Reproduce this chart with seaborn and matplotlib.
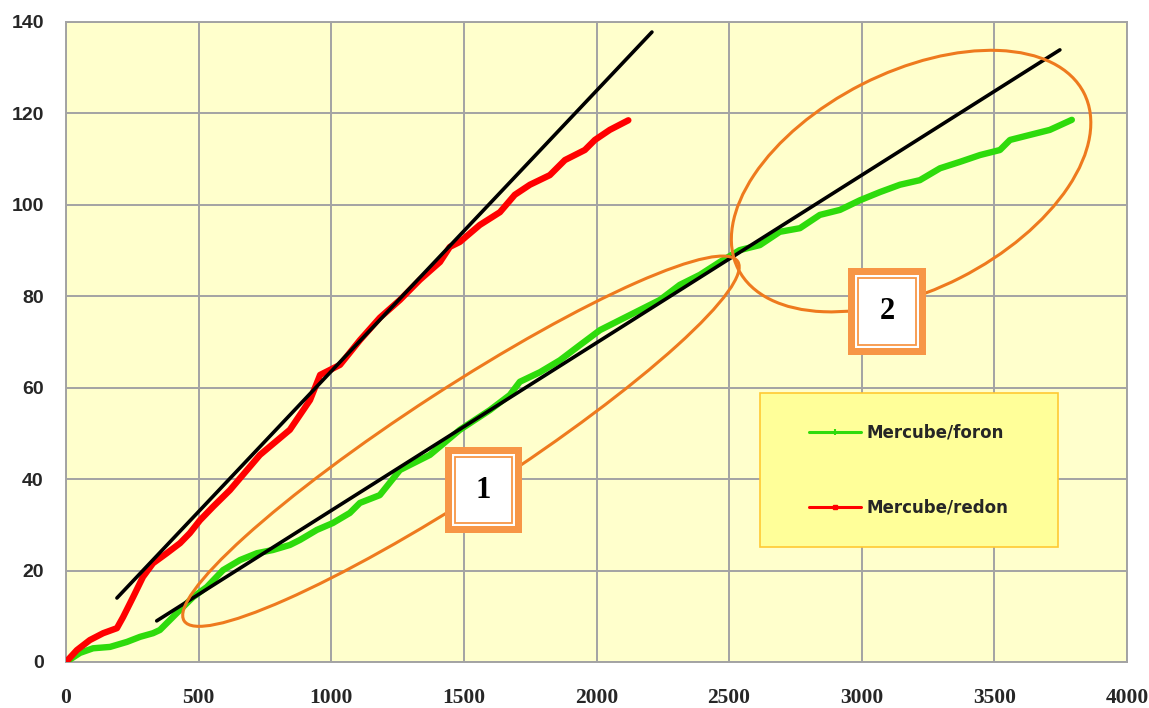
import numpy as np
import pandas as pd
import matplotlib
matplotlib.use("Agg")
import matplotlib.pyplot as plt
import seaborn as sns
from matplotlib.patches import Ellipse, Rectangle
from matplotlib.transforms import IdentityTransform
from matplotlib.lines import Line2D

# --- data -------------------------------------------------------------
foron_x = [0, 53, 102, 166, 230, 279, 328, 354, 392, 430, 479, 531, 592, 656,
           720, 780, 844, 882, 946, 1006, 1070, 1108, 1183, 1259, 1372, 1485,
           1598, 1673, 1711, 1787, 1862, 1937, 2013, 2126, 2239, 2314, 2390,
           2465, 2540, 2616, 2691, 2767, 2842, 2918, 2993, 3069, 3144, 3219,
           3295, 3370, 3446, 3521, 3559, 3634, 3709, 3792]
foron_y = [0, 2.0, 3.0, 3.3, 4.4, 5.5, 6.3, 7.0, 9.2, 11.4, 14.2, 16.4, 20.1,
           22.3, 23.8, 24.5, 25.6, 26.7, 28.9, 30.4, 32.6, 34.8, 36.5, 42.0,
           45.3, 50.8, 55.1, 58.4, 61.3, 63.4, 66.0, 69.3, 72.6, 75.9, 79.2,
           82.5, 84.7, 87.5, 90.1, 91.2, 94.1, 94.9, 97.8, 98.9, 101.0, 102.8,
           104.4, 105.4, 108.0, 109.4, 110.9, 112.0, 114.2, 115.3, 116.4, 118.6]

redon_x = [0, 41, 90, 140, 192, 215, 253, 290, 328, 380, 430, 467, 505, 555,
           618, 731, 844, 920, 958, 1033, 1108, 1183, 1259, 1334, 1410, 1447,
           1485, 1560, 1636, 1692, 1749, 1824, 1881, 1956, 1994, 2050, 2120]
redon_y = [0, 2.6, 4.8, 6.3, 7.4, 9.8, 14.2, 18.6, 21.6, 23.8, 26.0, 28.2,
           31.0, 34.0, 37.6, 45.3, 50.8, 57.3, 62.8, 65.0, 70.4, 75.3, 79.2,
           83.6, 87.5, 90.8, 91.9, 95.6, 98.4, 102.2, 104.4, 106.5, 109.8,
           112.0, 114.2, 116.4, 118.5]

trend_redon_x = [192, 2209]
trend_redon_y = [14.0, 137.8]
trend_foron_x = [342, 3747]
trend_foron_y = [9.0, 133.9]

series_labels = ["Mercube/foron", "Mercube/redon"]
zone_labels = ["1", "2"]
x_ticks = [0, 500, 1000, 1500, 2000, 2500, 3000, 3500, 4000]
y_ticks = [0, 20, 40, 60, 80, 100, 120, 140]

# --- styling ----------------------------------------------------------
GREEN = "#2EDB0C"
RED = "#FF0000"
GRID = "#A3A3A3"
PLOT_BG = "#FFFFCC"
ELLIPSE_C = "#EE7A1E"
BOX_C = "#F79646"

sns.set_style("white")
plt.rcParams["font.family"] = ["DejaVu Sans"]

DPI = 100
fig = plt.figure(figsize=(11.49, 7.08), dpi=DPI)
ax = fig.add_axes([66 / 1149, 46 / 708, 1061 / 1149, 640 / 708])
ax.set_facecolor(PLOT_BG)

df = pd.concat([
    pd.DataFrame({"x": foron_x, "y": foron_y, "series": series_labels[0]}),
    pd.DataFrame({"x": redon_x, "y": redon_y, "series": series_labels[1]}),
])
sns.lineplot(data=df, x="x", y="y", hue="series",
             palette={series_labels[0]: GREEN, series_labels[1]: RED},
             sort=False, estimator=None, linewidth=4.6, legend=False,
             solid_joinstyle="round", solid_capstyle="round", ax=ax, zorder=3)

sns.lineplot(x=trend_redon_x, y=trend_redon_y, color="black", linewidth=2.6,
             sort=False, estimator=None, ax=ax, zorder=4)
sns.lineplot(x=trend_foron_x, y=trend_foron_y, color="black", linewidth=2.6,
             sort=False, estimator=None, ax=ax, zorder=4)

ax.set_xlim(0, 4000)
ax.set_ylim(0, 140)
ax.set_xticks(x_ticks)
ax.set_yticks(y_ticks)
ax.set_xlabel("")
ax.set_ylabel("")
ax.grid(True, color=GRID, linewidth=1.4, zorder=0)
ax.set_axisbelow(True)
for sp in ax.spines.values():
    sp.set_color(GRID)
    sp.set_linewidth(1.4)
ax.tick_params(axis="both", direction="out", length=5, width=1.2, color=GRID)
ax.tick_params(axis="x", pad=14)
ax.tick_params(axis="y", pad=11)
for lab in ax.get_xticklabels():
    lab.set_fontfamily("Liberation Serif")
    lab.set_fontweight("bold")
    lab.set_fontsize(15.5)
for lab in ax.get_yticklabels():
    lab.set_fontfamily("Liberation Sans")
    lab.set_fontweight("bold")
    lab.set_fontsize(14)

fig.canvas.draw()
ident = IdentityTransform()

# --- zone ellipses (drawn in screen space so the tilt is preserved) ---
def zone_ellipse(cx, cy, w_px, h_px, angle):
    px, py = ax.transData.transform((cx, cy))
    e = Ellipse((px, py), w_px, h_px, angle=angle, transform=ident,
                fill=False, edgecolor=ELLIPSE_C, linewidth=2.2, zorder=5)
    ax.add_artist(e)

zone_ellipse(1489, 48.3, 660, 106, 33)
zone_ellipse(3186, 105.2, 388, 217, 27)

# --- numbered zone boxes ---------------------------------------------
def zone_box(fx0, fy0, fx1, fy1, label):
    x0, y0 = ax.transAxes.transform((fx0, fy0))
    x1, y1 = ax.transAxes.transform((fx1, fy1))
    w, h = x1 - x0, y1 - y0
    ax.add_artist(Rectangle((x0, y0), w, h, transform=ident,
                            facecolor=BOX_C, edgecolor="none", zorder=6))
    b = 7
    ax.add_artist(Rectangle((x0 + b, y0 + b), w - 2 * b, h - 2 * b,
                            transform=ident, facecolor="white",
                            edgecolor="none", zorder=7))
    b2 = 10
    ax.add_artist(Rectangle((x0 + b2, y0 + b2), w - 2 * b2, h - 2 * b2,
                            transform=ident, facecolor="white",
                            edgecolor=BOX_C, linewidth=1.3, zorder=8))
    ax.text((x0 + x1) / 2, (y0 + y1) / 2, label, transform=ident,
            ha="center", va="center", fontsize=22, fontweight="bold",
            family="Liberation Serif", color="black", zorder=9)

zone_box(0.3572, 0.2016, 0.4298, 0.3359, zone_labels[0])
zone_box(0.7370, 0.4797, 0.8106, 0.6156, zone_labels[1])

# --- legend -----------------------------------------------------------
ax.add_artist(Rectangle((0.654, 0.180), 0.281, 0.240, transform=ax.transAxes,
                        facecolor="#FFFF99", edgecolor="#FFC933",
                        linewidth=1.2, zorder=6))
handles = [
    Line2D([], [], color=GREEN, linewidth=2.2, marker="|", markersize=5,
           markeredgewidth=1.5),
    Line2D([], [], color=RED, linewidth=2.2, marker="s", markersize=3.5),
]
leg = ax.legend(handles, series_labels, loc="center",
                bbox_to_anchor=(0.7945, 0.300), frameon=False,
                fontsize=12, handlelength=3.1, handletextpad=0.35,
                labelspacing=3.4)
leg.set_zorder(7)
for t in leg.get_texts():
    t.set_fontweight("bold")

fig.savefig("out.png", dpi=DPI, facecolor="white")
